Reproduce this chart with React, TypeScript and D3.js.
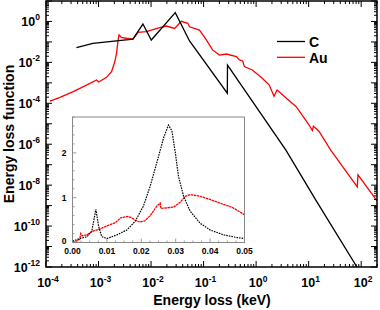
import * as d3 from "d3";

// C: energy (keV) and loss function, broad scale
const cEnergy = [3.8e-4, 7.8e-4, 4.5e-3, 7.0e-3, 0.0101, 0.0289, 0.054, 0.283, 0.285, 3.69, 13.7, 83, 200];
const cLoss = [0.0525, 0.085, 0.138, 0.75, 0.124, 2.7, 0.111, 3.1e-4, 7.4e-3, 5.2e-7, 1.86e-9, 1e-12, 2.5e-14];

// Au: energy (keV) and loss function, broad scale
const auEnergy = [
  1.19e-4, 1.85e-4, 3.3e-4, 5.9e-4, 9.2e-4, 1.01e-3, 1.42e-3, 1.77e-3, 2.04e-3, 2.2e-3,
  2.36e-3, 2.46e-3, 2.73e-3, 3.4e-3, 4.54e-3, 5.64e-3, 8.15e-3, 0.0146, 0.0195, 0.0281,
  0.0376, 0.0501, 0.054, 0.0836, 0.1135, 0.148, 0.2, 0.272, 0.421, 0.48,
  0.555, 0.597, 0.847, 1.31, 1.78, 2.19, 2.51, 3.72, 5.8, 10.2,
  11.75, 12.3, 14.1, 15.8, 26.3, 84.3, 86.9, 200,
];
const auLoss = [
  1.29e-4, 1.95e-4, 3.7e-4, 7.8e-4, 1.38e-3, 1.1e-3, 1.86e-3, 3.47e-3, 0.0107, 0.0275,
  0.123, 0.219, 0.166, 0.151, 0.138, 0.295, 0.316, 0.5, 0.6, 0.457,
  1.02, 0.81, 0.55, 0.38, 0.123, 0.0407, 0.0229, 0.0257, 0.0191, 0.0132,
  0.0117, 6.2e-3, 4.27e-3, 1.66e-3, 7.8e-4, 2.2e-4, 4.5e-4, 1.8e-4, 6.8e-5, 8.7e-6,
  4.7e-6, 7.6e-6, 5.6e-6, 4.2e-6, 5.2e-7, 8.3e-9, 3.2e-8, 1.7e-9,
];

// low-energy detail (linear scale)
const cInsetEnergy = [
  0, 0.0022, 0.0042, 0.0056, 0.0068, 0.0076, 0.0085, 0.0101, 0.0129, 0.0158, 0.0182, 0.0206,
  0.0226, 0.0245, 0.0265, 0.0279, 0.0289, 0.0299, 0.0308, 0.0323, 0.0342, 0.0371, 0.04,
  0.0439, 0.0478, 0.05,
];
const cInsetLoss = [
  0.03, 0.09, 0.13, 0.25, 0.74, 0.36, 0.13, 0.09, 0.17, 0.28, 0.47, 0.81,
  1.26, 1.78, 2.34, 2.62, 2.49, 2.0, 1.48, 1.03, 0.7, 0.43, 0.28,
  0.17, 0.11, 0.09,
];
const auInsetEnergy = [
  0, 0.0015, 0.0021, 0.0024, 0.0028, 0.0042, 0.0056, 0.0071, 0.0085, 0.011, 0.0124, 0.014,
  0.0158, 0.017, 0.0182, 0.0195, 0.021, 0.0226, 0.0245, 0.0255, 0.0257, 0.027, 0.0294,
  0.0313, 0.0328, 0.0342, 0.0371, 0.04, 0.0439, 0.0463, 0.05,
];
const auInsetLoss = [
  0, 0.04, 0.07, 0.2, 0.15, 0.17, 0.24, 0.28, 0.32, 0.4, 0.44, 0.55,
  0.58, 0.56, 0.5, 0.46, 0.48, 0.6, 0.81, 0.88, 0.76, 0.77, 0.79,
  0.9, 1.03, 1.07, 1.03, 0.96, 0.85, 0.79, 0.62,
];

const xExponents = [-4, -3, -2, -1, 0, 1, 2];
const yExponents = [0, -2, -4, -6, -8, -10, -12];
const insetXTicks = [0, 0.01, 0.02, 0.03, 0.04, 0.05];
const insetYTicks = [0, 1, 2];

const font = "Liberation Sans, Arial, sans-serif";

const logTicks = (lo: number, hi: number) => {
  const out: { v: number; major: boolean }[] = [];
  for (let k = Math.floor(Math.log10(lo)); k <= Math.ceil(Math.log10(hi)); k++) {
    for (let m = 1; m <= 9; m++) {
      const v = m * Math.pow(10, k);
      if (v >= lo * 0.999 && v <= hi * 1.001) out.push({ v, major: m === 1 });
    }
  }
  return out;
};

const Pow = ({ e, x, y, anchor }: any) => (
  <text x={x} y={y} textAnchor={anchor} fontFamily={font} fontWeight="bold" fontSize={12.5}>
    10<tspan fontSize={8.5} dy={-5.5}>{e}</tspan>
  </text>
);

export default function App() {
  const L = 46, R = 377, T = 1, B = 267;
  const x = d3.scaleLog().domain([1e-4, 200]).range([L, R]);
  const y = d3.scaleLog().domain([1e-12, 10]).range([B, T]);

  const iL = 72.5, iR = 244.5, iT = 117, iB = 242.5;
  const ix = d3.scaleLinear().domain([0, 0.05]).range([iL, iR]);
  const iy = d3.scaleLinear().domain([0, 2.8]).range([iB, iT]);

  const line = d3.line<[number, number]>().x((d) => x(d[0])).y((d) => y(d[1]));
  const iline = d3.line<[number, number]>().x((d) => ix(d[0])).y((d) => iy(d[1]));

  const cPts = cEnergy.map((e, i) => [e, cLoss[i]] as [number, number]);
  const auPts = auEnergy.map((e, i) => [e, auLoss[i]] as [number, number]);
  const cIn = cInsetEnergy.map((e, i) => [e, cInsetLoss[i]] as [number, number]);
  const auIn = auInsetEnergy.map((e, i) => [e, auInsetLoss[i]] as [number, number]);

  const xt = logTicks(1e-4, 200);
  const yt = logTicks(1e-12, 10);
  const ixMinor = d3.range(0, 0.0501, 0.0025);
  const iyMinor = d3.range(0, 2.81, 0.2);

  return (
    <div style={{ position: "fixed", left: 0, top: 0 }}>
      <svg width={380} height={310} style={{ display: "block" }}>
        <defs>
          <clipPath id="plot">
            <rect x={L} y={T} width={R - L} height={B - T} />
          </clipPath>
        </defs>
        <rect width={380} height={310} fill="#fff" />

        <g clipPath="url(#plot)">
          <path d={line(auPts) || ""} fill="none" stroke="#f00" strokeWidth={1.3} />
          <path d={line(cPts) || ""} fill="none" stroke="#000" strokeWidth={1.3} />
        </g>

        {/* log ticks, pointing inward on all four sides */}
        <g stroke="#000" strokeWidth={1}>
          {xt.map((t, i) => (
            <g key={"x" + i}>
              <line x1={x(t.v)} x2={x(t.v)} y1={B} y2={B - (t.major ? 6 : 3)} />
              <line x1={x(t.v)} x2={x(t.v)} y1={T} y2={T + (t.major ? 6 : 3)} />
            </g>
          ))}
          {yt.map((t, i) => (
            <g key={"y" + i}>
              <line x1={L} x2={L + (t.major ? 6 : 3)} y1={y(t.v)} y2={y(t.v)} />
              <line x1={R} x2={R - (t.major ? 6 : 3)} y1={y(t.v)} y2={y(t.v)} />
            </g>
          ))}
        </g>
        <rect x={L} y={T} width={R - L} height={B - T} fill="none" stroke="#000" strokeWidth={1.5} />

        {xExponents.map((e) => (
          <Pow key={e} e={e} x={x(Math.pow(10, e)) + 2} y={B + 20} anchor="middle" />
        ))}
        {yExponents.map((e) => (
          <Pow key={e} e={e} x={40} y={y(Math.pow(10, e)) + 4.5} anchor="end" />
        ))}

        <text x={212} y={305} textAnchor="middle" fontFamily={font} fontWeight="bold" fontSize={14}>
          Energy loss (keV)
        </text>
        <text
          transform={`translate(14,134) rotate(-90)`}
          textAnchor="middle"
          fontFamily={font}
          fontWeight="bold"
          fontSize={14}
        >
          Energy loss function
        </text>

        {/* legend */}
        <line x1={277} x2={305} y1={41.5} y2={41.5} stroke="#000" strokeWidth={1.3} />
        <text x={309} y={46.5} fontFamily={font} fontWeight="bold" fontSize={14}>C</text>
        <line x1={277} x2={305} y1={57.3} y2={57.3} stroke="#f00" strokeWidth={1.3} />
        <text x={309} y={62.5} fontFamily={font} fontWeight="bold" fontSize={14}>Au</text>

        {/* inset */}
        <rect x={iL} y={iT} width={iR - iL} height={iB - iT} fill="#fff" />
        <g stroke="#888" strokeWidth={0.8}>
          {ixMinor.map((v, i) => (
            <line key={"ix" + i} x1={ix(v)} x2={ix(v)} y1={iB} y2={iB - (i % 4 === 0 ? 4 : 2)} />
          ))}
          {iyMinor.map((v, i) => (
            <line key={"iy" + i} x1={iL} x2={iL + (i % 5 === 0 ? 4 : 2)} y1={iy(v)} y2={iy(v)} />
          ))}
        </g>
        <path d={iline(auIn) || ""} fill="none" stroke="#f00" strokeWidth={1.3} strokeDasharray="2.5 0.6" />
        <path d={iline(cIn) || ""} fill="none" stroke="#000" strokeWidth={1.2} strokeDasharray="1.6 1" />
        <rect x={iL} y={iT} width={iR - iL} height={iB - iT} fill="none" stroke="#888" strokeWidth={1} />
        {insetXTicks.map((v) => (
          <text key={v} x={ix(v)} y={iB + 11} textAnchor="middle" fontFamily={font} fontWeight="bold" fontSize={8.5}>
            {v.toFixed(2)}
          </text>
        ))}
        {insetYTicks.map((v) => (
          <text key={v} x={iL - 6} y={iy(v) + (v === 0 ? 1.5 : 3)} textAnchor="end" fontFamily={font} fontWeight="bold" fontSize={8.5}>
            {v}
          </text>
        ))}
      </svg>
    </div>
  );
}
